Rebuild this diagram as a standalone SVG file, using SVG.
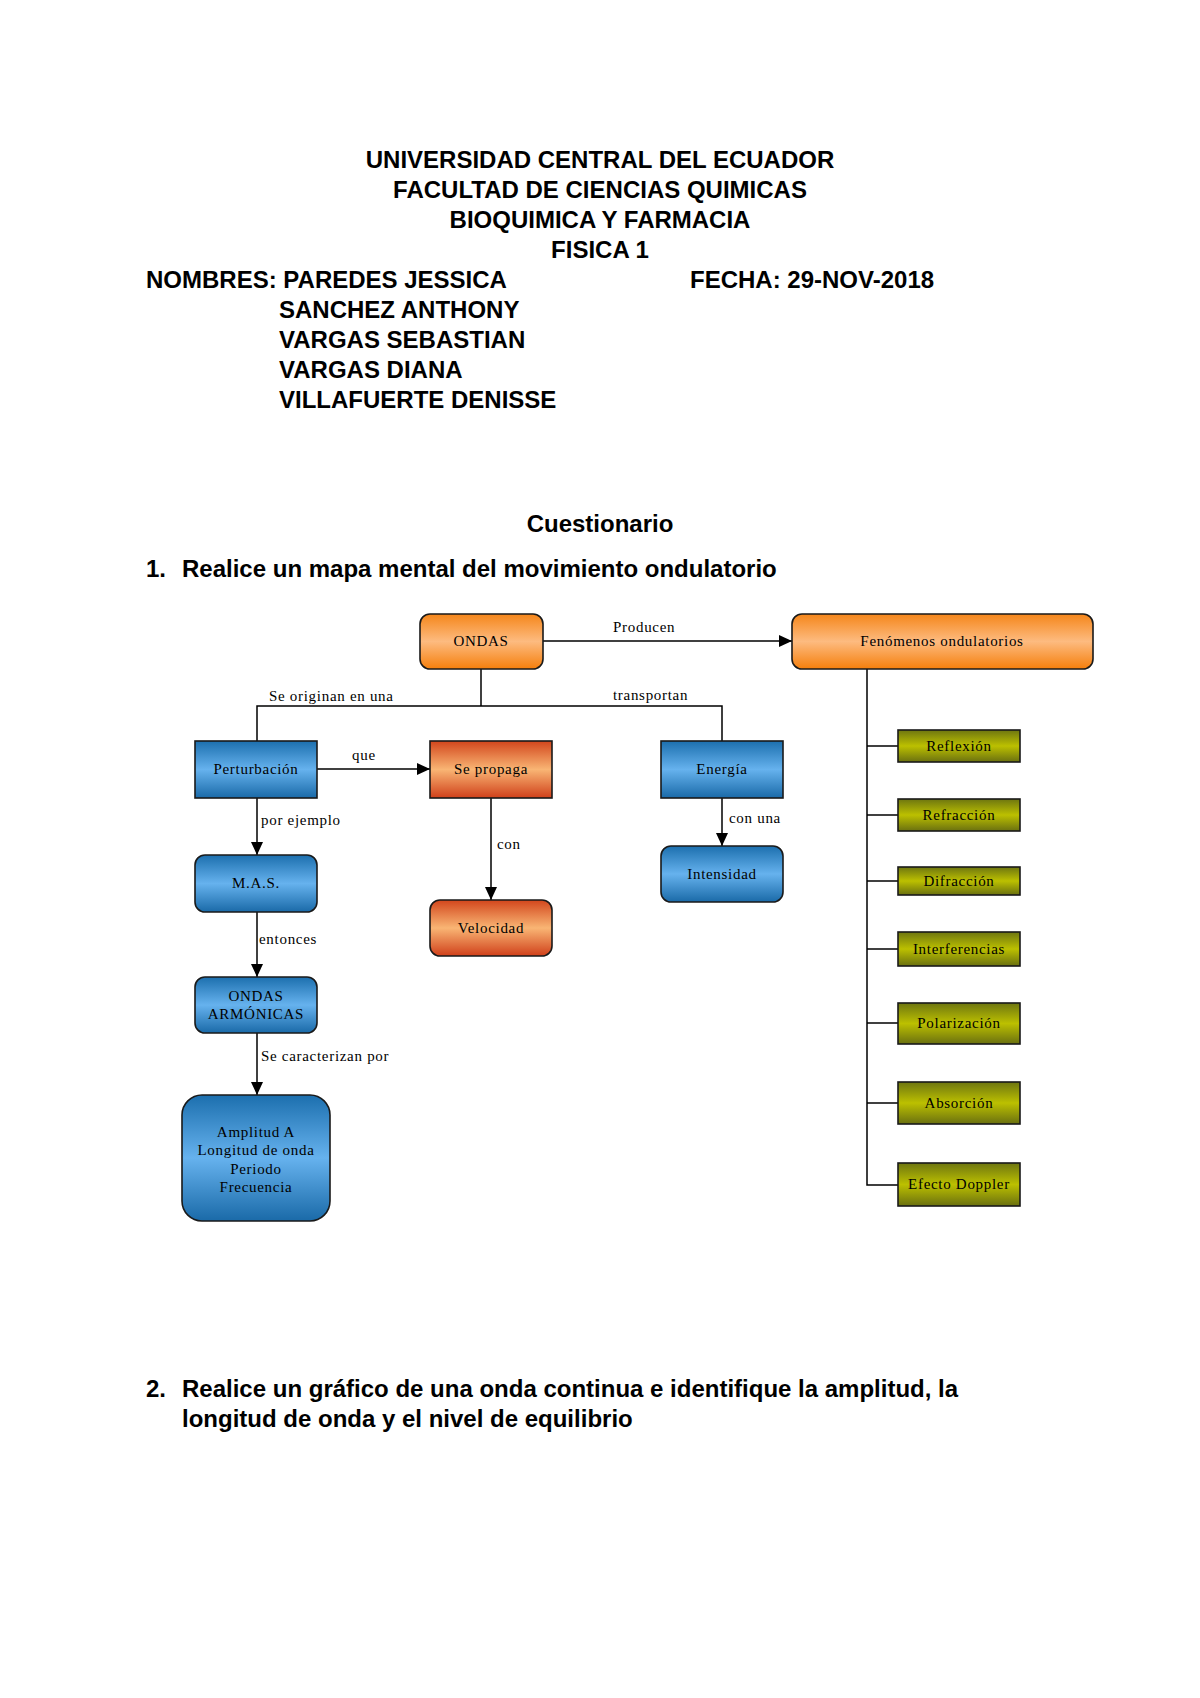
<svg xmlns="http://www.w3.org/2000/svg" width="1200" height="1698" viewBox="0 0 1200 1698">
<style>
.hd{font-family:"Liberation Sans",Arial,sans-serif;font-weight:bold;font-size:24px;fill:#000}
.c{text-anchor:middle}
.lb{font-family:"Liberation Serif","Times New Roman",serif;font-size:15px;letter-spacing:0.7px;fill:#000}
.nt{font-family:"Liberation Serif","Times New Roman",serif;font-size:15px;letter-spacing:0.7px;fill:#000;text-anchor:middle}
.bx{stroke:#1a1a1a;stroke-width:1.6}
.ln{stroke:#000;stroke-width:1.5;fill:none}
</style>
<defs>
<linearGradient id="gO" x1="0" y1="0" x2="0" y2="1">
<stop offset="0" stop-color="#f5861a"/><stop offset="0.5" stop-color="#fdbb80"/><stop offset="1" stop-color="#f57f0c"/>
</linearGradient>
<linearGradient id="gB" x1="0" y1="0" x2="0" y2="1">
<stop offset="0" stop-color="#1c6fae"/><stop offset="0.5" stop-color="#66b2ee"/><stop offset="1" stop-color="#1a6aa8"/>
</linearGradient>
<linearGradient id="gR" x1="0" y1="0" x2="0" y2="1">
<stop offset="0" stop-color="#d2461c"/><stop offset="0.5" stop-color="#f9b574"/><stop offset="1" stop-color="#d0401a"/>
</linearGradient>
<linearGradient id="gG" x1="0" y1="0" x2="0" y2="1">
<stop offset="0" stop-color="#6e7610"/><stop offset="0.5" stop-color="#bcc000"/><stop offset="1" stop-color="#6a7010"/>
</linearGradient>
<marker id="ar" markerUnits="userSpaceOnUse" markerWidth="14" markerHeight="14" refX="13" refY="7" orient="auto">
<path d="M0,1 L13,7 L0,13 Z" fill="#000"/>
</marker>
</defs>
<rect width="1200" height="1698" fill="#fff"/>

<g id="header">
<text class="hd c" x="600" y="168">UNIVERSIDAD CENTRAL DEL ECUADOR</text>
<text class="hd c" x="600" y="198">FACULTAD DE CIENCIAS QUIMICAS</text>
<text class="hd c" x="600" y="228">BIOQUIMICA Y FARMACIA</text>
<text class="hd c" x="600" y="258">FISICA 1</text>
<text class="hd" x="146" y="288">NOMBRES: PAREDES JESSICA</text>
<text class="hd" x="690" y="288">FECHA: 29-NOV-2018</text>
<text class="hd" x="279" y="318">SANCHEZ ANTHONY</text>
<text class="hd" x="279" y="348">VARGAS SEBASTIAN</text>
<text class="hd" x="279" y="378">VARGAS DIANA</text>
<text class="hd" x="279" y="408">VILLAFUERTE DENISSE</text>
<text class="hd c" x="600" y="532">Cuestionario</text>
<text class="hd" x="146" y="577">1.</text>
<text class="hd" x="182" y="577">Realice un mapa mental del movimiento ondulatorio</text>
<text class="hd" x="146" y="1397">2.</text>
<text class="hd" x="182" y="1397">Realice un gráfico de una onda continua e identifique la amplitud, la</text>
<text class="hd" x="182" y="1427">longitud de onda y el nivel de equilibrio</text>
</g>

<g id="connectors">
<line class="ln" x1="543" y1="641" x2="792" y2="641" marker-end="url(#ar)"/>
<polyline class="ln" points="481,669 481,706"/>
<polyline class="ln" points="257,741 257,706 722,706 722,741"/>
<line class="ln" x1="317" y1="769" x2="430" y2="769" marker-end="url(#ar)"/>
<line class="ln" x1="257" y1="798" x2="257" y2="855" marker-end="url(#ar)"/>
<line class="ln" x1="491" y1="798" x2="491" y2="900" marker-end="url(#ar)"/>
<line class="ln" x1="722" y1="798" x2="722" y2="846" marker-end="url(#ar)"/>
<line class="ln" x1="257" y1="912" x2="257" y2="977" marker-end="url(#ar)"/>
<line class="ln" x1="257" y1="1033" x2="257" y2="1095" marker-end="url(#ar)"/>
<polyline class="ln" points="867,669 867,1185 898,1185"/>
<line class="ln" x1="867" y1="746" x2="898" y2="746"/>
<line class="ln" x1="867" y1="815" x2="898" y2="815"/>
<line class="ln" x1="867" y1="881" x2="898" y2="881"/>
<line class="ln" x1="867" y1="949" x2="898" y2="949"/>
<line class="ln" x1="867" y1="1023" x2="898" y2="1023"/>
<line class="ln" x1="867" y1="1103" x2="898" y2="1103"/>
<text class="lb" x="613" y="632">Producen</text>
<text class="lb" x="269" y="701">Se originan en una</text>
<text class="lb" x="613" y="700">transportan</text>
<text class="lb" x="352" y="760">que</text>
<text class="lb" x="261" y="825">por ejemplo</text>
<text class="lb" x="497" y="849">con</text>
<text class="lb" x="729" y="823">con una</text>
<text class="lb" x="259" y="944">entonces</text>
<text class="lb" x="261" y="1061">Se caracterizan por</text>
</g>

<g id="n-ondas"><rect class="bx" x="420" y="614" width="123" height="55" rx="10" fill="url(#gO)"/><text class="nt" x="481" y="646">ONDAS</text></g>
<g id="n-fenomenos"><rect class="bx" x="792" y="614" width="301" height="55" rx="10" fill="url(#gO)"/><text class="nt" x="942" y="646">Fenómenos ondulatorios</text></g>
<g id="n-perturbacion"><rect class="bx" x="195" y="741" width="122" height="57" fill="url(#gB)"/><text class="nt" x="256" y="774">Perturbación</text></g>
<g id="n-sepropaga"><rect class="bx" x="430" y="741" width="122" height="57" fill="url(#gR)"/><text class="nt" x="491" y="774">Se propaga</text></g>
<g id="n-energia"><rect class="bx" x="661" y="741" width="122" height="57" fill="url(#gB)"/><text class="nt" x="722" y="774">Energía</text></g>
<g id="n-mas"><rect class="bx" x="195" y="855" width="122" height="57" rx="10" fill="url(#gB)"/><text class="nt" x="256" y="888">M.A.S.</text></g>
<g id="n-velocidad"><rect class="bx" x="430" y="900" width="122" height="56" rx="10" fill="url(#gR)"/><text class="nt" x="491" y="933">Velocidad</text></g>
<g id="n-intensidad"><rect class="bx" x="661" y="846" width="122" height="56" rx="10" fill="url(#gB)"/><text class="nt" x="722" y="879">Intensidad</text></g>
<g id="n-armonicas"><rect class="bx" x="195" y="977" width="122" height="56" rx="10" fill="url(#gB)"/><text class="nt" x="256" y="1001">ONDAS</text><text class="nt" x="256" y="1019">ARMÓNICAS</text></g>
<g id="n-amplitud"><rect class="bx" x="182" y="1095" width="148" height="126" rx="20" fill="url(#gB)"/><text class="nt" x="256" y="1137">Amplitud A</text><text class="nt" x="256" y="1155">Longitud de onda</text><text class="nt" x="256" y="1174">Periodo</text><text class="nt" x="256" y="1192">Frecuencia</text></g>
<g id="n-reflexion"><rect class="bx" x="898" y="730" width="122" height="32" fill="url(#gG)"/><text class="nt" x="959" y="751">Reflexión</text></g>
<g id="n-refraccion"><rect class="bx" x="898" y="799" width="122" height="32" fill="url(#gG)"/><text class="nt" x="959" y="820">Refracción</text></g>
<g id="n-difraccion"><rect class="bx" x="898" y="867" width="122" height="28" fill="url(#gG)"/><text class="nt" x="959" y="886">Difracción</text></g>
<g id="n-interferencias"><rect class="bx" x="898" y="932" width="122" height="34" fill="url(#gG)"/><text class="nt" x="959" y="954">Interferencias</text></g>
<g id="n-polarizacion"><rect class="bx" x="898" y="1003" width="122" height="41" fill="url(#gG)"/><text class="nt" x="959" y="1028">Polarización</text></g>
<g id="n-absorcion"><rect class="bx" x="898" y="1082" width="122" height="42" fill="url(#gG)"/><text class="nt" x="959" y="1108">Absorción</text></g>
<g id="n-doppler"><rect class="bx" x="898" y="1163" width="122" height="43" fill="url(#gG)"/><text class="nt" x="959" y="1189">Efecto Doppler</text></g>
</svg>
